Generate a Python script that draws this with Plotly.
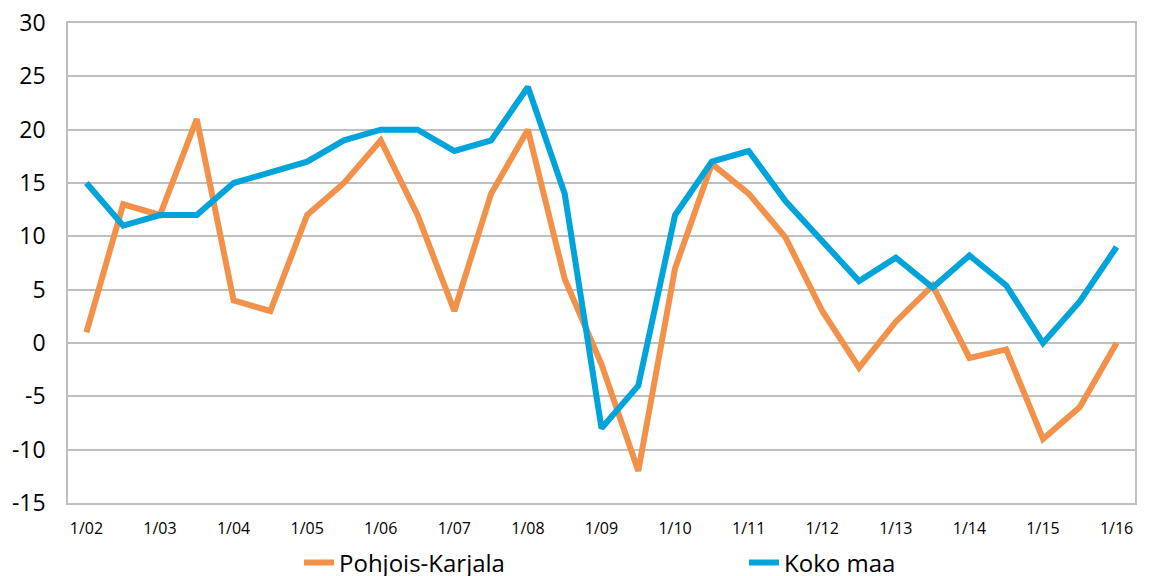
import plotly.graph_objects as go

periods = []
for yr in range(2, 17):
    periods.append(f"1/{yr:02d}")
    if yr < 16:
        periods.append(f"7/{yr:02d}")

tick_labels = [f"1/{yr:02d}" for yr in range(2, 17)]
y_ticks = [-15, -10, -5, 0, 5, 10, 15, 20, 25, 30]
y_tick_text = [str(v) for v in y_ticks]

pohjois_karjala = [1, 13, 12, 21, 4, 3, 12, 15, 19, 12, 3, 14, 20, 6, -2, -12,
                   7, 16.8, 14, 9.9, 3, -2.3, 2, 5.4, -1.4, -0.6, -9, -6, 0]
koko_maa = [15, 11, 12, 12, 15, 16, 17, 19, 20, 20, 18, 19, 24, 14, -8, -4,
            12, 17, 18, 13.3, 9.5, 5.8, 8, 5.2, 8.2, 5.4, 0, 3.9, 9]

fig = go.Figure()
fig.add_trace(go.Scatter(x=periods, y=pohjois_karjala, mode="lines", name="Pohjois-Karjala",
                         line=dict(color="#F2914A", width=6)))
fig.add_trace(go.Scatter(x=periods, y=koko_maa, mode="lines", name="Koko maa",
                         line=dict(color="#00A4DA", width=6)))

fig.update_layout(
    width=1142, height=568,
    margin=dict(l=60, r=15, t=15, b=73, autoexpand=False),
    plot_bgcolor="white", paper_bgcolor="white",
    font=dict(family="Open Sans", color="#000000"),
    legend=dict(orientation="h", x=0.2165, xanchor="left", y=-0.125, yanchor="middle",
                font=dict(size=24), entrywidth=400, itemwidth=30,
                bgcolor="rgba(0,0,0,0)"),
)
fig.update_xaxes(type="category", categoryorder="array", categoryarray=periods,
                 range=[-0.5, len(periods) - 0.5],
                 tickvals=tick_labels, ticktext=tick_labels,
                 tickfont=dict(size=16), ticks="", ticklabelstandoff=10,
                 showgrid=False, showline=True, linecolor="#BFBFBF", linewidth=1.5,
                 mirror=True, zeroline=False)
fig.update_yaxes(range=[-15, 30], tickvals=y_ticks, ticktext=y_tick_text,
                 tickfont=dict(size=23), ticks="", ticklabelstandoff=16,
                 ticklabeloverflow="allow",
                 showgrid=True, gridcolor="#BFBFBF", gridwidth=1.5,
                 showline=True, linecolor="#BFBFBF", linewidth=1.5, mirror=True,
                 zeroline=False)

fig.write_html("out.html")
